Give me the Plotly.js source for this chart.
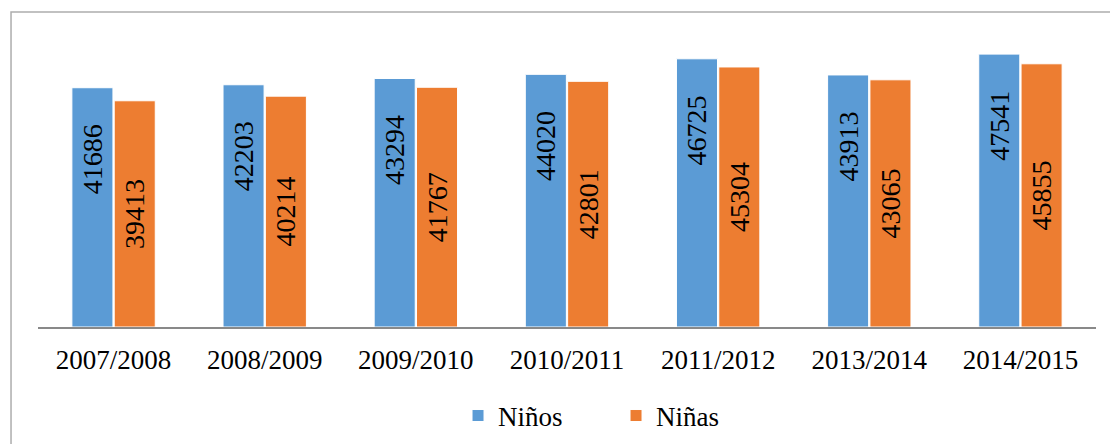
<!DOCTYPE html>
<html>
<head>
<meta charset="utf-8">
<script src="https://cdn.plot.ly/plotly-3.0.1.min.js"></script>
<style>
html,body{margin:0;padding:0;background:#fff;}
#chart{width:1110px;height:444px;}
</style>
</head>
<body>
<div id="chart"></div>
<script>
const categories = ["2007/2008","2008/2009","2009/2010","2010/2011","2011/2012","2013/2014","2014/2015"];
const ninos = [41686, 42203, 43294, 44020, 46725, 43913, 47541];
const ninas = [39413, 40214, 41767, 42801, 45304, 43065, 45855];
const seriesNames = ["Niños", "Niñas"];

const FONT = "Liberation Serif";

const traces = [
  {
    type: "bar", name: seriesNames[0], x: categories, y: ninos,
    marker: {color: "#5B9BD5", line: {color: "#ffffff", width: 1}},
    texttemplate: "%{y:.0f}\u2007\u2007\u2009", textposition: "inside",
    insidetextanchor: "end", textangle: -90, constraintext: "none",
    textfont: {family: FONT, size: 28, color: "#000000"},
    hoverinfo: "none"
  },
  {
    type: "bar", name: seriesNames[1], x: categories, y: ninas,
    marker: {color: "#ED7D31", line: {color: "#ffffff", width: 1}},
    texttemplate: "%{y:.0f}", textposition: "inside",
    insidetextanchor: "middle", textangle: -90, constraintext: "none",
    textfont: {family: FONT, size: 28, color: "#000000"},
    hoverinfo: "none"
  }
];

const layout = {
  width: 1110, height: 444,
  margin: {l: 38, r: 14, t: 40, b: 117, pad: 0, autoexpand: false},
  paper_bgcolor: "#ffffff", plot_bgcolor: "#ffffff",
  font: {family: FONT, size: 27, color: "#000000"},
  barmode: "group", bargap: 0.44, bargroupgap: 0.03,
  xaxis: {
    type: "category", showline: true, linecolor: "#898989", linewidth: 2,
    ticks: "", showgrid: false, zeroline: false,
    tickfont: {family: FONT, size: 27, color: "#000000"},
    ticklabelstandoff: 8
  },
  yaxis: {
    range: [0, 50000], visible: false, showgrid: false, zeroline: false
  },
  showlegend: true,
  legend: {
    orientation: "h", x: 0.397, xanchor: "left", y: -0.31, yanchor: "middle",
    font: {family: FONT, size: 27, color: "#000000"},
    entrywidth: 113, entrywidthmode: "pixels", bgcolor: "rgba(0,0,0,0)",
    traceorder: "normal"
  },
  shapes: [{
    type: "rect", xref: "paper", yref: "paper",
    x0: -0.0255, x1: 1.2, y0: -0.6, y1: 1.0976,
    line: {color: "#adadad", width: 1.5}, fillcolor: "rgba(0,0,0,0)", layer: "above"
  }]
};

Plotly.newPlot("chart", traces, layout, {displayModeBar: false, staticPlot: true});
</script>
</body>
</html>
